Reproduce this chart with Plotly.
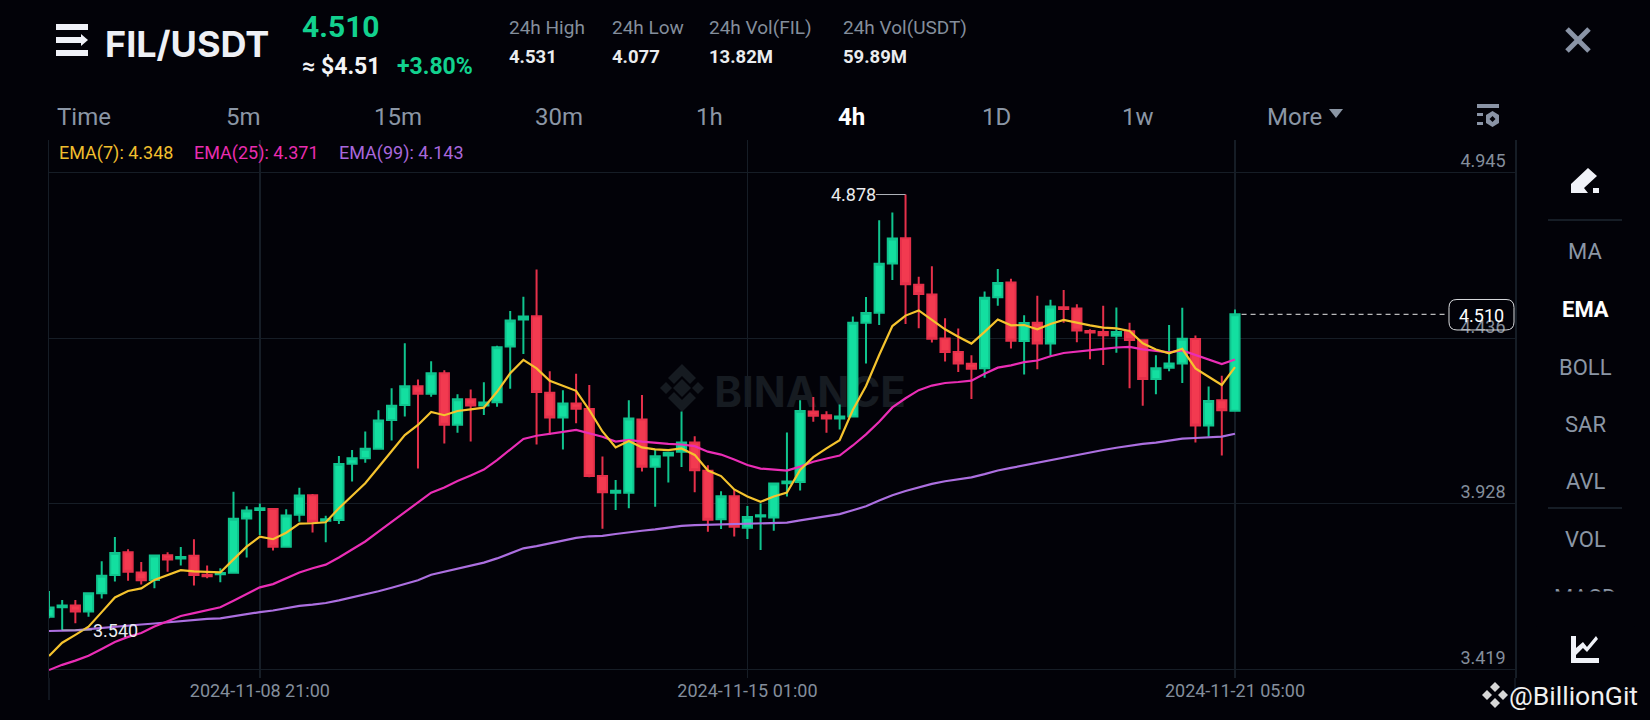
import pandas as pd
import plotly.graph_objects as go

W, H = 1650, 720
BG = "#020208"
GRID = "#161D26"
MUTED = "#848E9C"
TAB = "#8B96A5"
GREEN = "#12D18E"
WHITE = "#EAECEF"

start_time = "2024-11-06 05:00"
candle_count = 91
times = pd.date_range(start_time, periods=candle_count, freq="4h")

opens = [3.581,3.610,3.615,3.597,3.653,3.709,3.779,3.717,3.694,3.770,
         3.760,3.768,3.710,3.711,3.716,3.883,3.909,3.912,3.796,3.894,
         3.954,3.876,3.878,4.051,4.068,4.097,4.185,4.231,4.289,4.266,
         4.329,4.171,4.249,4.230,4.240,4.411,4.494,4.504,4.269,4.193,
         4.236,4.219,4.013,3.962,3.962,4.187,4.042,4.076,4.088,4.116,
         4.029,3.880,3.951,3.854,3.889,3.886,3.991,3.995,4.211,4.200,
         4.190,4.196,4.484,4.515,4.666,4.744,4.601,4.571,4.436,4.394,
         4.358,4.344,4.562,4.608,4.428,4.484,4.420,4.532,4.528,4.459,
         4.456,4.444,4.458,4.430,4.311,4.346,4.359,4.434,4.168,4.246,4.214]
highs = [3.660,3.632,3.632,3.653,3.751,3.826,3.788,3.749,3.770,3.779,
         3.795,3.819,3.738,3.730,3.965,3.920,3.929,3.913,3.911,3.977,
         3.958,3.891,4.075,4.093,4.150,4.215,4.283,4.421,4.310,4.366,
         4.338,4.264,4.279,4.301,4.413,4.520,4.564,4.648,4.335,4.277,
         4.327,4.293,4.073,4.001,4.246,4.262,4.093,4.088,4.211,4.135,
         4.046,3.966,3.970,3.921,3.929,3.991,4.147,4.246,4.256,4.212,
         4.233,4.503,4.563,4.799,4.823,4.878,4.625,4.658,4.498,4.466,
         4.384,4.580,4.649,4.619,4.507,4.567,4.555,4.585,4.541,4.464,
         4.536,4.531,4.484,4.431,4.384,4.477,4.530,4.445,4.288,4.321,4.525]
lows = [3.576,3.540,3.561,3.581,3.637,3.689,3.691,3.680,3.668,3.719,
        3.738,3.677,3.699,3.687,3.716,3.763,3.832,3.784,3.796,3.873,
        3.840,3.810,3.866,3.996,4.054,4.097,4.122,4.196,4.036,4.257,
        4.113,4.146,4.119,4.201,4.226,4.281,4.388,4.110,4.139,4.095,
        4.175,4.009,3.851,3.909,3.914,4.027,3.919,3.993,4.041,3.963,
        3.842,3.850,3.827,3.820,3.786,3.845,3.950,3.969,4.180,4.146,
        4.156,4.196,4.359,4.477,4.615,4.480,4.467,4.423,4.365,4.333,
        4.250,4.315,4.536,4.405,4.325,4.341,4.383,4.484,4.424,4.372,
        4.354,4.392,4.283,4.229,4.264,4.335,4.299,4.116,4.134,4.076,4.214]
closes = [3.609,3.615,3.597,3.653,3.707,3.777,3.719,3.693,3.769,3.757,
          3.764,3.709,3.705,3.715,3.882,3.907,3.914,3.796,3.892,3.953,
          3.873,3.880,4.050,4.068,4.097,4.184,4.229,4.289,4.266,4.329,
          4.171,4.249,4.230,4.239,4.409,4.491,4.503,4.271,4.193,4.236,
          4.220,4.013,3.963,3.968,4.190,4.042,4.074,4.085,4.116,4.031,
          3.879,3.951,3.857,3.887,3.893,3.990,3.996,4.213,4.198,4.190,
          4.196,4.484,4.514,4.665,4.743,4.602,4.572,4.435,4.394,4.359,
          4.343,4.561,4.606,4.429,4.483,4.420,4.534,4.526,4.460,4.454,
          4.446,4.456,4.431,4.311,4.344,4.359,4.435,4.168,4.244,4.215,4.510]
ema7 = [3.460,3.501,3.525,3.550,3.595,3.640,3.660,3.668,3.694,3.709,
        3.724,3.720,3.718,3.717,3.757,3.796,3.827,3.819,3.839,3.867,
        3.868,3.871,3.914,3.952,3.991,4.040,4.091,4.139,4.170,4.210,
        4.200,4.213,4.218,4.223,4.272,4.329,4.370,4.344,4.306,4.290,
        4.275,4.216,4.150,4.101,4.121,4.101,4.095,4.093,4.098,4.078,
        4.030,4.013,3.972,3.950,3.934,3.950,3.962,4.032,4.071,4.098,
        4.123,4.216,4.290,4.385,4.474,4.506,4.522,4.493,4.464,4.441,
        4.420,4.456,4.494,4.476,4.477,4.464,4.480,4.493,4.484,4.476,
        4.469,4.467,4.459,4.421,4.402,4.390,4.404,4.344,4.318,4.293,4.348]
ema25 = [3.417,3.433,3.446,3.461,3.482,3.503,3.519,3.531,3.551,3.568,
         3.583,3.592,3.600,3.610,3.630,3.651,3.671,3.681,3.699,3.717,
         3.730,3.741,3.763,3.788,3.812,3.842,3.872,3.904,3.933,3.962,
         3.978,3.998,4.015,4.033,4.062,4.095,4.127,4.137,4.142,4.149,
         4.155,4.144,4.134,4.119,4.124,4.119,4.115,4.112,4.110,4.105,
         4.088,4.079,4.064,4.047,4.036,4.032,4.030,4.042,4.057,4.067,
         4.076,4.107,4.141,4.180,4.224,4.252,4.277,4.291,4.299,4.302,
         4.306,4.327,4.346,4.353,4.363,4.368,4.381,4.391,4.396,4.400,
         4.404,4.408,4.410,4.402,4.398,4.393,4.399,4.385,4.371,4.357,4.371]
ema99 = [3.537,3.538,3.539,3.543,3.547,3.550,3.553,3.557,3.560,3.564,
         3.568,3.571,3.574,3.576,3.583,3.589,3.595,3.600,3.607,3.614,
         3.618,3.623,3.631,3.640,3.648,3.659,3.670,3.681,3.693,3.710,
         3.719,3.729,3.738,3.747,3.760,3.776,3.791,3.798,3.806,3.815,
         3.823,3.828,3.829,3.835,3.841,3.845,3.849,3.855,3.860,3.862,
         3.863,3.863,3.865,3.866,3.867,3.868,3.870,3.877,3.884,3.890,
         3.896,3.908,3.920,3.938,3.954,3.967,3.979,3.989,3.997,4.003,
         4.009,4.019,4.030,4.038,4.046,4.054,4.062,4.071,4.079,4.086,
         4.093,4.100,4.107,4.112,4.116,4.122,4.128,4.130,4.132,4.134,4.143]

y_ticks = [3.419, 3.928, 4.436, 4.945]
x_ticks = ["2024-11-08 21:00", "2024-11-15 01:00", "2024-11-21 05:00"]
legend_items = [("EMA(7): 4.348", "#F0BE2E", 59), ("EMA(25): 4.371", "#E92DB0", 194), ("EMA(99): 4.143", "#A868DC", 339)]
tabs = [("Time", 84), ("5m", 243), ("15m", 398), ("30m", 559), ("1h", 709), ("4h", 851), ("1D", 996), ("1w", 1138), ("More", 1294)]
stats = [("24h High", "4.531", 509), ("24h Low", "4.077", 612), ("24h Vol(FIL)", "13.82M", 709), ("24h Vol(USDT)", "59.89M", 843)]
side_items = [("MA", 252), ("EMA", 309), ("BOLL", 367), ("SAR", 424), ("AVL", 482), ("VOL", 539), ("MACD", 597)]

def px(x):
    return x / W
def py(y):
    return 1 - y / H

annotations = []
def label(text, x, y, size, color, anchor="left", bold=False, family="Roboto"):
    if anchor == "left":
        x -= 2
    annotations.append(dict(text=f"<b>{text}</b>" if bold else text, x=px(x), y=py(y), xref="paper", yref="paper",
                            xanchor=anchor, yanchor="middle", showarrow=False,
                            font=dict(family=family, size=size, color=color)))

shapes = []
def rect(x0, y0, x1, y1, color, layer="above"):
    shapes.append(dict(type="rect", xref="paper", yref="paper", x0=px(x0), x1=px(x1), y0=py(y0), y1=py(y1),
                       fillcolor=color, line=dict(width=0), layer=layer))
def seg(x0, y0, x1, y1, color, width=1, layer="above"):
    shapes.append(dict(type="line", xref="paper", yref="paper", x0=px(x0), x1=px(x1), y0=py(y0), y1=py(y1),
                       line=dict(color=color, width=width), layer=layer))
def poly(points, color, layer="above"):
    path = "M " + " L ".join(f"{px(a):.5f},{py(b):.5f}" for a, b in points) + " Z"
    shapes.append(dict(type="path", xref="paper", yref="paper", path=path, fillcolor=color, line=dict(width=0), layer=layer))

fig = go.Figure()
fig.add_trace(go.Candlestick(
    x=times, open=opens, high=highs, low=lows, close=closes,
    increasing=dict(line=dict(color="#10C48E", width=2), fillcolor="#13DFA0"),
    decreasing=dict(line=dict(color="#E6304A", width=2), fillcolor="#F23A50"),
    whiskerwidth=0, showlegend=False, hoverinfo="skip"))
for series, color in ((ema99, "#AC6FE0"), (ema25, "#EA2DB5"), (ema7, "#F5C32E")):
    fig.add_trace(go.Scatter(x=times, y=series, mode="lines", line=dict(color=color, width=2.2),
                             showlegend=False, hoverinfo="skip"))

# high / low / last markers, in data space
hi_i = highs.index(max(highs))
lo_i = lows.index(min(lows))
fig.add_trace(go.Scatter(x=[times[hi_i] - pd.Timedelta(hours=9), times[hi_i]], y=[highs[hi_i]] * 2, mode="lines",
                         line=dict(color="#B0B4BA", width=1), showlegend=False, hoverinfo="skip"))
fig.add_trace(go.Scatter(x=[times[lo_i], times[lo_i] + pd.Timedelta(hours=9)], y=[lows[lo_i]] * 2, mode="lines",
                         line=dict(color="#B0B4BA", width=1), showlegend=False, hoverinfo="skip"))
fig.add_trace(go.Scatter(x=[times[-1] + pd.Timedelta(hours=2), times[-1] + pd.Timedelta(hours=64)], y=[closes[-1]] * 2, mode="lines",
                         line=dict(color="#E8E8E8", width=1, dash="5px,4px"), showlegend=False, hoverinfo="skip"))
annotations.append(dict(text=f"{highs[hi_i]:.3f}", x=times[hi_i] - pd.Timedelta(hours=9), y=highs[hi_i], xref="x", yref="y",
                        xanchor="right", yanchor="middle", xshift=2, showarrow=False,
                        font=dict(family="Roboto", size=18, color=WHITE)))
annotations.append(dict(text=f"{lows[lo_i]:.3f}", x=times[lo_i] + pd.Timedelta(hours=9), y=lows[lo_i], xref="x", yref="y",
                        xanchor="left", yanchor="middle", xshift=-1, showarrow=False,
                        font=dict(family="Roboto", size=18, color=WHITE)))
label(f"{closes[-1]:.3f}", 1481.5, 315, 18, "#FFFFFF", "center")
# rounded tag box
x0, x1, y0, y1, r = 1449, 1514, 299.5, 330, 8
tag = (f"M {px(x0+r):.5f},{py(y0):.5f} L {px(x1-r):.5f},{py(y0):.5f} Q {px(x1):.5f},{py(y0):.5f} {px(x1):.5f},{py(y0+r):.5f} "
       f"L {px(x1):.5f},{py(y1-r):.5f} Q {px(x1):.5f},{py(y1):.5f} {px(x1-r):.5f},{py(y1):.5f} "
       f"L {px(x0+r):.5f},{py(y1):.5f} Q {px(x0):.5f},{py(y1):.5f} {px(x0):.5f},{py(y1-r):.5f} "
       f"L {px(x0):.5f},{py(y0+r):.5f} Q {px(x0):.5f},{py(y0):.5f} {px(x0+r):.5f},{py(y0):.5f} Z")
shapes.append(dict(type="path", xref="paper", yref="paper", path=tag, line=dict(color="#D8DADD", width=1), fillcolor="rgba(0,0,0,0)"))

# header
label("FIL/USDT", 105, 44, 36, "#EEF0F5", bold=True, family="Inter")
label("4.510", 302, 27, 30, GREEN, bold=True)
label("≈ $4.51", 302, 66, 23, "#F3F4F6", bold=True)
label("+3.80%", 397, 66, 23, GREEN, bold=True)
for head, val, x in stats:
    label(head, x, 28, 19, MUTED)
    label(val, x, 57, 18.5, WHITE, bold=True)
for name, x in tabs:
    label(name, x, 117, 24, "#FFFFFF" if name == "4h" else TAB, "center", bold=name == "4h")
poly([(1329, 109), (1343, 109), (1336, 118)], TAB)
for text, color, x in legend_items:
    label(text, x, 153, 18, color)
for name, y in side_items:
    label(name, 1585, y, 22, "#FFFFFF" if name == "EMA" else TAB, "center", bold=name == "EMA")
# the scroll list cuts its last entry off
annotations.append(dict(text="&nbsp;", x=px(1585), y=py(609), xref="paper", yref="paper", xanchor="center", yanchor="middle",
                        showarrow=False, width=95, height=32, bgcolor=BG, font=dict(size=10, color=BG)))
for y in (220, 508, 609):
    seg(1548, y, 1622, y, "#1E2730", 1.5)
label("@BillionGit", 1509, 695, 26.5, "#F0F0F0")

# left and right rails reach below the plot
seg(49, 678, 49, 700, GRID, 1.5)
seg(1515, 678, 1515, 700, GRID, 1.5)

# menu icon
rect(56, 24, 88, 30, "#F0F2F8")
rect(56, 37, 81, 43, "#F0F2F8")
rect(56, 50, 88, 56, "#F0F2F8")
poly([(81, 34), (88, 40), (81, 46)], "#F0F2F8")
# close icon
seg(1567, 29, 1589, 51, "#8A94A6", 5)
seg(1589, 29, 1567, 51, "#8A94A6", 5)
# settings icon
rect(1477, 104, 1499, 108, "#8A94A6")
rect(1477, 113, 1483, 116, "#8A94A6")
rect(1477, 122, 1483, 125, "#8A94A6")
poly([(1492.5, 111), (1499, 115), (1499, 123), (1492.5, 127), (1486, 123), (1486, 115)], "#8A94A6")
poly([(1492.5, 116), (1495.5, 119), (1492.5, 122), (1489.5, 119)], BG)
# pencil icon
poly([(1571, 193), (1571, 184), (1588, 168), (1597, 176), (1584, 188), (1588, 193)], "#F0F2F8")
rect(1593, 188, 1599, 193, "#F0F2F8")
# chart icon
rect(1571, 636, 1576, 663, "#F0F2F8")
rect(1571, 658, 1599, 663, "#F0F2F8")
poly([(1576, 648), (1583, 642), (1587, 647), (1596, 636), (1598, 639), (1587, 652), (1583, 648), (1576, 655)], "#F0F2F8")
# small diamond logo
for cx, cy in ((1495, 687), (1487, 695), (1503, 695), (1495, 703)):
    poly([(cx, cy - 5), (cx + 5, cy), (cx, cy + 5), (cx - 5, cy)], "#D8D8D8")

# Binance watermark, behind the marks
WM = "#161B21"
for cx, cy, s in ((682, 388, 9), (666, 388, 6), (698, 388, 6)):
    poly([(cx, cy - s), (cx + s, cy), (cx, cy + s), (cx - s, cy)], WM, "below")
poly([(682, 364), (696, 378), (690, 384), (682, 376), (674, 384), (668, 378)], WM, "below")
poly([(682, 412), (696, 398), (690, 392), (682, 400), (674, 392), (668, 398)], WM, "below")
shapes.append(dict(type="rect", xref="paper", yref="paper", x0=px(715), x1=px(905), y0=py(370), y1=py(410), layer="below",
                   line=dict(width=0), fillcolor="rgba(0,0,0,0)",
                   label=dict(text="<b>BINANCE</b>", textposition="middle center",
                              font=dict(family="Inter", size=42, color=WM))))

fig.update_layout(
    width=W, height=H, margin=dict(l=0, r=0, t=0, b=0), autosize=False,
    paper_bgcolor=BG, plot_bgcolor=BG, showlegend=False, boxgap=0.0, dragmode=False,
    hovermode=False, annotations=annotations, shapes=shapes,
    xaxis=dict(domain=[49 / W, 1515 / W], type="date", range=[start_time, "2024-11-24 18:00"],
               tickmode="array", tickvals=x_ticks, ticktext=x_ticks, rangeslider=dict(visible=False),
               showgrid=True, gridcolor=GRID, gridwidth=1.5, zeroline=False, showline=False, ticks="",
               tickfont=dict(family="Roboto", size=18, color=MUTED), ticklabelstandoff=0),
    yaxis=dict(domain=[1 - 678 / H, 1 - 140 / H], range=[3.3926, 5.0455], side="right",
               tickmode="array", tickvals=y_ticks, ticktext=[f"{v:.3f}" for v in y_ticks],
               ticklabelposition="inside", ticklabelshift=-12, ticklabelstandoff=10,
               showgrid=True, gridcolor=GRID, gridwidth=1.5, zeroline=False,
               showline=True, mirror=True, linecolor=GRID, linewidth=1.5, ticks="",
               tickfont=dict(family="Roboto", size=18, color=MUTED)),
)

fig.write_html("out.html", config=dict(displayModeBar=False, staticPlot=True),
               post_script="document.body.style.margin='0';document.body.style.background='#020208';document.documentElement.style.overflow='hidden';")
